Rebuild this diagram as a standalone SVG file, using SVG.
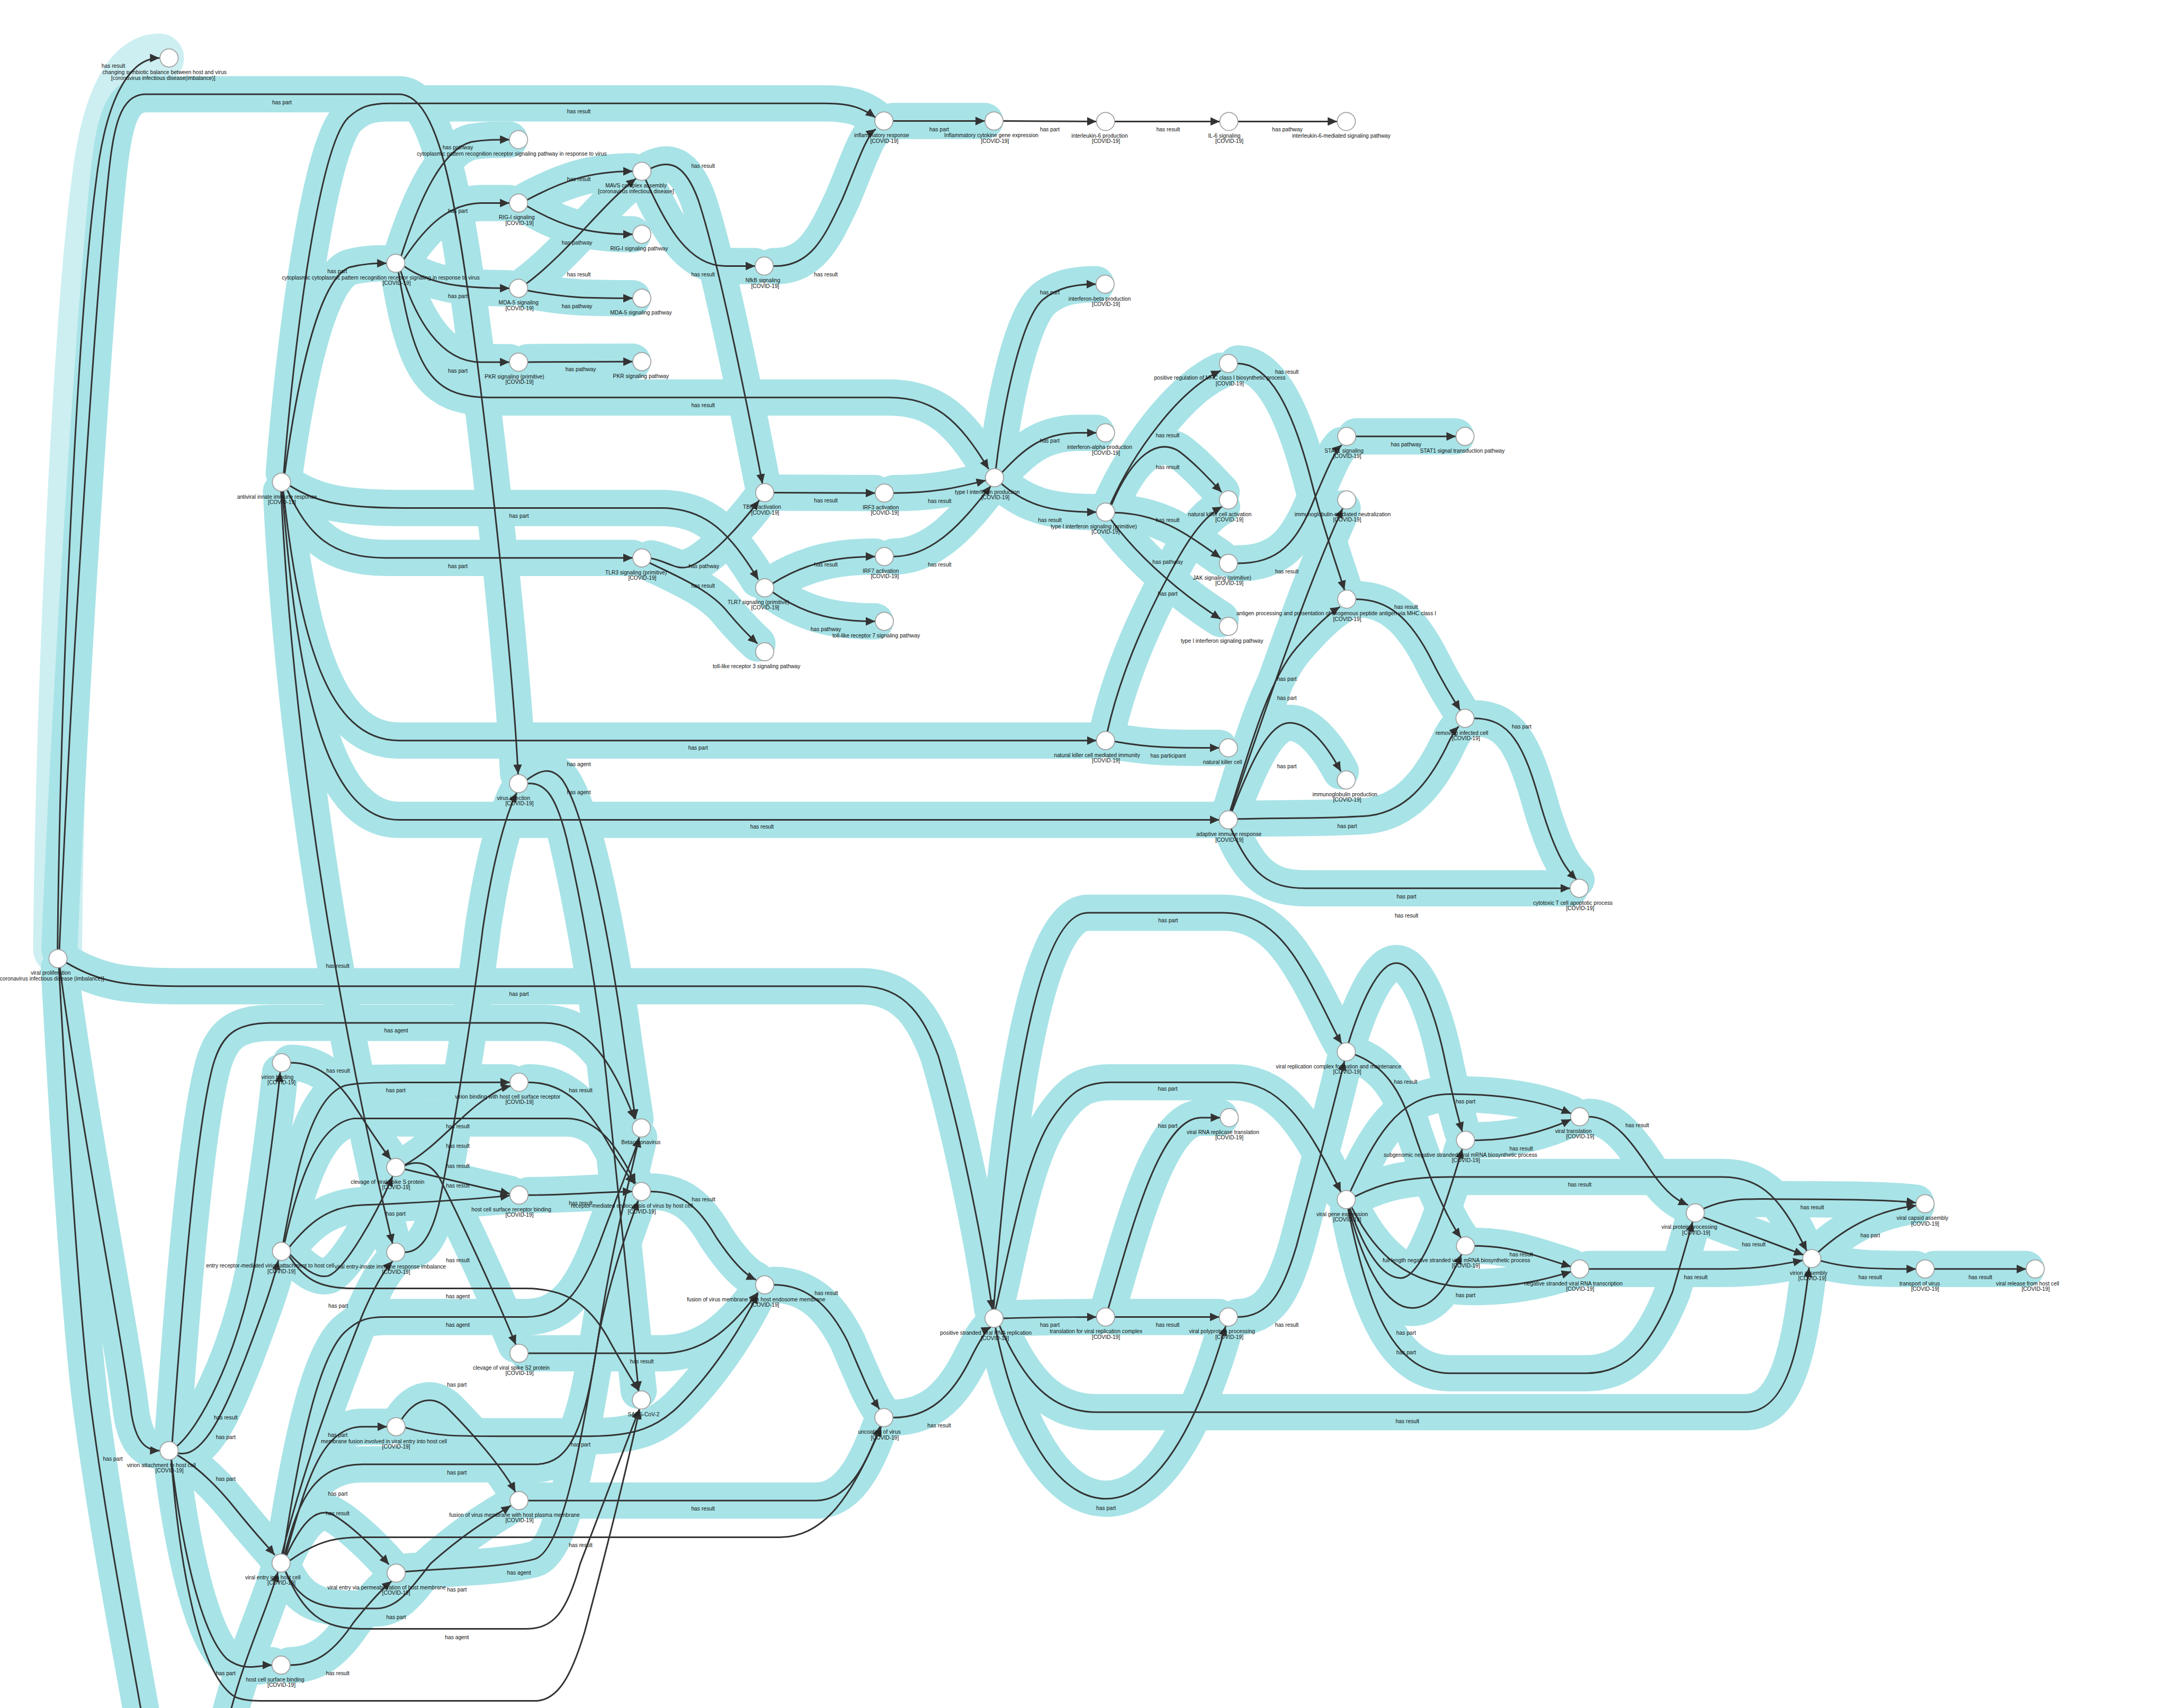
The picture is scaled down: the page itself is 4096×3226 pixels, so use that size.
<svg xmlns="http://www.w3.org/2000/svg" xmlns:xlink="http://www.w3.org/1999/xlink" width="4096" height="3226" viewBox="0 0 4096 3226">
<style>
text{font-family:"Liberation Sans",Arial,sans-serif;font-size:12px;fill:#111;text-anchor:middle}
.bl{fill:none;stroke:#cdeff2;stroke-width:108;stroke-linecap:round;stroke-linejoin:round}
.bd{fill:none;stroke:#a8e3e7;stroke-width:80;stroke-linecap:round;stroke-linejoin:round}
.ln{fill:none;stroke:#333;stroke-width:3.5;marker-end:url(#ah)}
.nd circle{fill:#fff;stroke:#a0a0a0;stroke-width:2}
</style>
<defs>
<marker id="ah" viewBox="0 0 10 9" refX="10" refY="4.5" markerWidth="6" markerHeight="5.4" markerUnits="strokeWidth" orient="auto"><path d="M0,0 L10,4.5 L0,9 z" fill="#333"/></marker>
<path id="e1" d="M127,2095 C133,1500 172,700 212,400 C232,230 280,128 352,128"/>
<path id="e2" d="M131,2095 C156,1500 208,700 238,400 C250,280 264,208 322,208 L880,208 C960,208 1000,400 1040,700 C1080,1000 1130,1450 1143,1708"/>
<path id="e3" d="M626,1044 C645,800 700,320 770,258 C795,236 815,228 860,228 L1820,228 C1880,228 1905,240 1931,259"/>
<path id="e4" d="M628,1045 C655,850 700,620 770,590 C800,582 825,581 853,581"/>
<path id="e5" d="M885,565 C925,440 975,330 1040,313 C1070,308 1095,308 1124,308"/>
<path id="e6" d="M891,572 C945,490 995,450 1060,448 L1124,448"/>
<path id="e7" d="M892,588 C950,628 1020,636 1124,636"/>
<path id="e8" d="M884,598 C915,700 970,799 1060,799 L1124,799"/>
<path id="e9" d="M879,600 C915,820 955,877 1080,877 L1960,877 C2060,877 2115,925 2181,1035"/>
<path id="e10" d="M1163,441 C1240,400 1300,378 1396,378"/>
<path id="e11" d="M1163,455 C1240,500 1300,517 1396,517"/>
<path id="e12" d="M1161,626 C1250,560 1330,450 1403,394"/>
<path id="e13" d="M1164,641 C1250,658 1300,658 1396,658"/>
<path id="e14" d="M1164,799 L1396,798"/>
<path id="e15" d="M1435,372 C1480,350 1512,365 1540,440 C1580,560 1640,850 1682,1067"/>
<path id="e16" d="M1424,396 C1470,500 1520,587 1600,587 L1666,587"/>
<path id="e17" d="M1706,587 C1790,590 1820,520 1858,440 C1888,370 1910,300 1932,285"/>
<path id="e18" d="M1970,267 L2173,267"/>
<path id="e19" d="M2213,267 L2419,268"/>
<path id="e20" d="M2459,268 L2691,268"/>
<path id="e21" d="M2731,268 L2950,268"/>
<path id="e22" d="M1707,1087 L1931,1088"/>
<path id="e23" d="M1971,1088 C2060,1088 2110,1076 2175,1060"/>
<path id="e24" d="M1971,1228 C2060,1228 2125,1150 2186,1072"/>
<path id="e25" d="M1436,1232 C1470,1238 1492,1258 1517,1251 C1562,1238 1632,1160 1675,1104"/>
<path id="e26" d="M1433,1242 C1490,1270 1565,1300 1605,1350 C1640,1392 1660,1410 1671,1420"/>
<path id="e27" d="M1705,1287 C1780,1240 1850,1228 1931,1228"/>
<path id="e28" d="M1705,1307 C1780,1360 1850,1371 1931,1371"/>
<path id="e29" d="M640,1072 C700,1110 760,1121 900,1121 L1460,1121 C1560,1121 1612,1180 1673,1279"/>
<path id="e30" d="M634,1082 C680,1180 730,1231 850,1231 L1396,1231"/>
<path id="e31" d="M2197,1034 C2218,860 2258,700 2300,662 C2332,634 2372,627 2418,627"/>
<path id="e32" d="M2210,1043 C2260,990 2300,955 2380,955 L2419,955"/>
<path id="e33" d="M2209,1067 C2270,1120 2330,1130 2419,1130"/>
<path id="e34" d="M2450,1112 C2500,1000 2600,860 2693,818"/>
<path id="e35" d="M2452,1114 C2500,1000 2555,968 2600,995 C2640,1025 2672,1062 2695,1086"/>
<path id="e36" d="M2459,1131 C2560,1133 2620,1180 2693,1231"/>
<path id="e37" d="M2451,1147 C2520,1240 2620,1320 2693,1366"/>
<path id="e38" d="M2730,1243 C2820,1243 2860,1200 2900,1100 C2930,1030 2945,995 2960,982"/>
<path id="e39" d="M2991,963 L3212,963"/>
<path id="e40" d="M2730,802 C2800,802 2850,900 2890,1050 C2920,1170 2950,1250 2966,1302"/>
<path id="e41" d="M2991,1322 C3060,1322 3110,1360 3160,1460 C3190,1520 3208,1545 3221,1567"/>
<path id="e42" d="M3252,1585 C3330,1585 3362,1640 3400,1780 C3436,1900 3462,1925 3478,1941"/>
<path id="e43" d="M2459,1636 C2550,1652 2600,1650 2690,1650"/>
<path id="e44" d="M2443,1614 C2480,1450 2560,1300 2600,1230 C2640,1160 2670,1132 2696,1118"/>
<path id="e45" d="M2718,1790 C2760,1680 2800,1595 2845,1595 C2890,1595 2930,1650 2958,1702"/>
<path id="e46" d="M2730,1807 C2850,1804 2950,1806 3020,1800 C3100,1790 3150,1730 3190,1650 C3203,1622 3211,1610 3218,1603"/>
<path id="e47" d="M2716,1829 C2760,1930 2800,1960 2880,1960 L3464,1960"/>
<path id="e48" d="M2714,1789 C2760,1640 2800,1500 2860,1430 C2905,1378 2935,1352 2956,1339"/>
<path id="e49" d="M2716,1789 C2780,1600 2880,1300 2962,1122"/>
<path id="e50" d="M625,1084 C660,1400 720,1634 880,1634 L2419,1634"/>
<path id="e51" d="M623,1084 C655,1500 715,1809 880,1809 L2690,1809"/>
<path id="e52" d="M620,1084 C650,1700 760,2300 866,2744"/>
<path id="e53" d="M146,2124 C220,2168 280,2176 400,2176 L1900,2176 C2000,2176 2040,2250 2070,2330 C2120,2500 2170,2750 2189,2889"/>
<path id="e54" d="M1162,1721 C1190,1700 1215,1690 1240,1720 C1290,1790 1340,2050 1370,2250 C1385,2360 1395,2420 1402,2469"/>
<path id="e55" d="M1164,1729 C1200,1726 1225,1750 1250,1850 C1285,2000 1320,2200 1340,2400 C1370,2700 1395,2950 1409,3069"/>
<path id="e56" d="M641,2345 C700,2345 742,2380 782,2440 C820,2500 848,2540 862,2558"/>
<path id="e57" d="M625,2741 C652,2600 682,2420 762,2395 C792,2388 822,2388 1125,2388"/>
<path id="e58" d="M638,2752 C680,2700 722,2662 800,2659 C900,2655 1000,2650 1125,2638"/>
<path id="e59" d="M628,2741 C660,2600 702,2480 780,2468 L1250,2468 C1320,2468 1362,2530 1402,2611"/>
<path id="e60" d="M640,2768 C670,2800 700,2822 725,2815 C762,2800 830,2680 866,2596"/>
<path id="e61" d="M638,2772 C670,2820 700,2843 780,2843 L1160,2843 C1250,2843 1300,2880 1340,2950 C1375,3015 1398,3050 1409,3069"/>
<path id="e62" d="M892,2571 C950,2540 1000,2480 1050,2440 C1088,2410 1108,2400 1127,2396"/>
<path id="e63" d="M893,2580 C980,2600 1060,2620 1125,2634"/>
<path id="e64" d="M893,2572 C920,2560 950,2565 970,2600 C1020,2700 1090,2850 1138,2967"/>
<path id="e65" d="M1165,2388 C1250,2388 1300,2450 1340,2520 C1368,2570 1388,2598 1400,2612"/>
<path id="e66" d="M1165,2637 C1250,2637 1320,2630 1395,2629"/>
<path id="e67" d="M1435,2629 C1500,2629 1540,2660 1580,2730 C1620,2790 1648,2815 1668,2824"/>
<path id="e68" d="M1165,2986 L1460,2986 C1560,2986 1620,2920 1672,2852"/>
<path id="e69" d="M893,2763 C920,2763 950,2740 970,2650 C1000,2500 1040,2250 1065,2050 C1090,1880 1120,1790 1140,1749"/>
<path id="e70" d="M1707,2835 C1780,2835 1830,2880 1870,2960 C1900,3030 1920,3080 1940,3109"/>
<path id="e71" d="M1165,3311 L1800,3311 C1868,3311 1908,3240 1941,3148"/>
<path id="e72" d="M640,3443 C700,3400 740,3392 800,3392 L1720,3392 C1820,3392 1880,3300 1944,3147"/>
<path id="e73" d="M1970,3128 C2050,3128 2100,3080 2140,3000 C2165,2950 2178,2932 2186,2928"/>
<path id="e74" d="M2213,2909 C2300,2906 2350,2906 2419,2906"/>
<path id="e75" d="M2459,2906 L2690,2906"/>
<path id="e76" d="M2445,2887 C2500,2700 2560,2466 2650,2466 L2692,2466"/>
<path id="e77" d="M2196,2889 C2230,2750 2260,2560 2320,2470 C2360,2410 2390,2388 2450,2388 L2720,2388 C2820,2388 2880,2470 2958,2630"/>
<path id="e78" d="M2192,2889 C2220,2500 2280,2014 2400,2014 L2700,2014 C2800,2014 2850,2100 2880,2150 C2920,2220 2945,2280 2960,2303"/>
<path id="e79" d="M2730,2906 C2800,2906 2830,2850 2860,2750 C2900,2600 2940,2450 2966,2341"/>
<path id="e80" d="M2196,2929 C2240,3150 2330,3307 2440,3307 C2550,3307 2640,3150 2704,2926"/>
<path id="e81" d="M2205,2925 C2260,3050 2320,3116 2420,3116 L3850,3116 C3950,3116 3972,2950 3991,2797"/>
<path id="e82" d="M2975,2301 C3000,2220 3040,2125 3080,2125 C3130,2125 3170,2250 3190,2350 C3205,2420 3215,2460 3226,2497"/>
<path id="e83" d="M2989,2327 C3050,2350 3090,2400 3120,2500 C3160,2620 3200,2700 3223,2731"/>
<path id="e84" d="M2979,2629 C3030,2520 3080,2414 3200,2414 C3320,2414 3400,2430 3466,2457"/>
<path id="e85" d="M2989,2640 C3050,2610 3100,2597 3200,2597 L3800,2597 C3880,2597 3920,2640 3960,2710 L3986,2760"/>
<path id="e86" d="M2978,2666 C3010,2760 3050,2820 3090,2820 C3140,2820 3192,2650 3226,2535"/>
<path id="e87" d="M2976,2667 C3010,2800 3060,2886 3115,2886 C3170,2886 3200,2820 3224,2768"/>
<path id="e88" d="M2982,2664 C3030,2760 3100,2840 3250,2840 C3350,2840 3420,2820 3466,2806"/>
<path id="e89" d="M2974,2667 C3020,2900 3080,3030 3200,3030 L3500,3030 C3600,3030 3650,2950 3690,2850 C3710,2780 3725,2730 3734,2696"/>
<path id="e90" d="M3253,2516 C3330,2516 3400,2500 3466,2470"/>
<path id="e91" d="M3253,2749 C3340,2749 3400,2775 3466,2795"/>
<path id="e92" d="M3505,2464 C3560,2464 3600,2520 3640,2580 C3680,2640 3708,2652 3724,2659"/>
<path id="e93" d="M3505,2800 L3800,2800 C3880,2800 3930,2790 3977,2781"/>
<path id="e94" d="M3758,2667 C3820,2640 3860,2646 3950,2646 C4100,2646 4180,2648 4227,2654"/>
<path id="e95" d="M3758,2686 L3979,2769"/>
<path id="e96" d="M4011,2763 C4080,2700 4150,2670 4228,2660"/>
<path id="e97" d="M4017,2782 C4080,2800 4150,2800 4227,2800"/>
<path id="e98" d="M4267,2800 L4470,2800"/>
<path id="e99" d="M380,3182 C400,2900 430,2500 470,2350 C490,2282 520,2257 600,2257 L1200,2257 C1300,2257 1352,2350 1400,2469"/>
<path id="e100" d="M390,3191 C440,3150 520,3000 560,2800 C590,2600 610,2450 618,2366"/>
<path id="e101" d="M392,3206 C450,3222 500,3100 540,3000 C578,2900 603,2830 614,2781"/>
<path id="e102" d="M392,3211 C440,3240 480,3280 520,3330 C560,3380 590,3412 606,3431"/>
<path id="e103" d="M378,3221 C400,3400 440,3600 500,3660 C540,3690 570,3674 600,3674"/>
<path id="e104" d="M132,2135 C180,2500 270,2950 290,3120 C300,3180 320,3200 352,3201"/>
<path id="e105" d="M130,2135 C150,2500 175,2900 200,3100 C240,3400 290,3650 314,3790"/>
<path id="e106" d="M505,3790 C540,3650 590,3550 613,3469"/>
<path id="e107" d="M630,3431 C670,3300 700,3148 800,3148 L854,3148"/>
<path id="e108" d="M886,3132 C920,3080 960,3080 990,3110 C1040,3160 1110,3240 1137,3292"/>
<path id="e109" d="M894,3150 C960,3169 1000,3169 1100,3169 L1300,3169 C1400,3169 1450,3150 1500,3100 C1580,3020 1640,2920 1672,2855"/>
<path id="e110" d="M628,3430 C660,3300 700,3231 800,3231 L1180,3231 C1260,3231 1290,3150 1320,2950 C1350,2800 1390,2700 1408,2649"/>
<path id="e111" d="M632,3432 C670,3350 700,3330 730,3340 C770,3360 830,3420 858,3452"/>
<path id="e112" d="M630,3468 C660,3530 700,3549 780,3549 L830,3549 C880,3549 910,3500 950,3450 C1040,3370 1100,3340 1127,3322"/>
<path id="e113" d="M640,3674 C700,3674 740,3640 780,3580 C820,3530 850,3500 864,3489"/>
<path id="e114" d="M630,3468 C670,3560 710,3594 800,3594 L1160,3594 C1220,3594 1250,3560 1280,3450 L1410,3110"/>
<path id="e115" d="M625,3429 C660,3200 700,3000 760,2940 C790,2912 810,2906 850,2906 L1160,2906 C1240,2906 1280,2850 1320,2750 C1360,2640 1395,2560 1410,2510"/>
<path id="e116" d="M894,3468 C980,3460 1100,3460 1180,3440 C1240,3420 1280,3200 1320,2950 C1350,2750 1390,2600 1410,2510"/>
<path id="e117" d="M622,3429 C680,3200 760,3000 800,2900 C830,2830 850,2800 866,2783"/>
<path id="e118" d="M378,3221 C395,3450 440,3700 520,3745 C540,3753 560,3753 600,3753 L1180,3753 C1230,3753 1260,3700 1290,3600 C1330,3450 1380,3250 1411,3110"/>
</defs>
<rect width="4096" height="3226" fill="#fff"/>
<g transform="scale(0.856)">
<g id="connectors">
<g class="bl"><use href="#e1"/></g>
<g class="bd">
<use href="#e2"/><use href="#e3"/><use href="#e4"/><use href="#e5"/><use href="#e6"/><use href="#e7"/><use href="#e8"/><use href="#e9"/><use href="#e10"/><use href="#e11"/><use href="#e12"/><use href="#e13"/><use href="#e14"/><use href="#e15"/><use href="#e16"/><use href="#e17"/><use href="#e18"/><use href="#e22"/><use href="#e23"/><use href="#e24"/><use href="#e25"/><use href="#e26"/><use href="#e27"/><use href="#e28"/><use href="#e29"/><use href="#e30"/><use href="#e31"/><use href="#e32"/><use href="#e33"/><use href="#e34"/><use href="#e35"/><use href="#e36"/><use href="#e37"/><use href="#e38"/><use href="#e39"/><use href="#e40"/><use href="#e41"/><use href="#e42"/><use href="#e43"/><use href="#e44"/><use href="#e45"/><use href="#e46"/><use href="#e47"/><use href="#e48"/><use href="#e49"/><use href="#e50"/><use href="#e51"/><use href="#e52"/><use href="#e53"/><use href="#e54"/><use href="#e55"/><use href="#e56"/><use href="#e57"/><use href="#e58"/><use href="#e59"/><use href="#e60"/><use href="#e62"/><use href="#e63"/><use href="#e64"/><use href="#e65"/><use href="#e66"/><use href="#e67"/><use href="#e68"/><use href="#e69"/><use href="#e70"/><use href="#e71"/><use href="#e73"/><use href="#e74"/><use href="#e75"/><use href="#e76"/><use href="#e77"/><use href="#e78"/><use href="#e79"/><use href="#e80"/><use href="#e81"/><use href="#e82"/><use href="#e83"/><use href="#e84"/><use href="#e85"/><use href="#e86"/><use href="#e87"/><use href="#e88"/><use href="#e89"/><use href="#e90"/><use href="#e91"/><use href="#e92"/><use href="#e93"/><use href="#e94"/><use href="#e95"/><use href="#e96"/><use href="#e97"/><use href="#e98"/><use href="#e99"/><use href="#e100"/><use href="#e101"/><use href="#e102"/><use href="#e103"/><use href="#e104"/><use href="#e105"/><use href="#e106"/><use href="#e107"/><use href="#e108"/><use href="#e109"/><use href="#e110"/><use href="#e111"/><use href="#e112"/><use href="#e113"/><use href="#e115"/><use href="#e116"/><use href="#e117"/>
</g>
<g class="ln">
<use href="#e1"/><use href="#e2"/><use href="#e3"/><use href="#e4"/><use href="#e5"/><use href="#e6"/><use href="#e7"/><use href="#e8"/><use href="#e9"/><use href="#e10"/><use href="#e11"/><use href="#e12"/><use href="#e13"/><use href="#e14"/><use href="#e15"/><use href="#e16"/><use href="#e17"/><use href="#e18"/><use href="#e19"/><use href="#e20"/><use href="#e21"/><use href="#e22"/><use href="#e23"/><use href="#e24"/><use href="#e25"/><use href="#e26"/><use href="#e27"/><use href="#e28"/><use href="#e29"/><use href="#e30"/><use href="#e31"/><use href="#e32"/><use href="#e33"/><use href="#e34"/><use href="#e35"/><use href="#e36"/><use href="#e37"/><use href="#e38"/><use href="#e39"/><use href="#e40"/><use href="#e41"/><use href="#e42"/><use href="#e43"/><use href="#e44"/><use href="#e45"/><use href="#e46"/><use href="#e47"/><use href="#e48"/><use href="#e49"/><use href="#e50"/><use href="#e51"/><use href="#e52"/><use href="#e53"/><use href="#e54"/><use href="#e55"/><use href="#e56"/><use href="#e57"/><use href="#e58"/><use href="#e59"/><use href="#e60"/><use href="#e61"/><use href="#e62"/><use href="#e63"/><use href="#e64"/><use href="#e65"/><use href="#e66"/><use href="#e67"/><use href="#e68"/><use href="#e69"/><use href="#e70"/><use href="#e71"/><use href="#e72"/><use href="#e73"/><use href="#e74"/><use href="#e75"/><use href="#e76"/><use href="#e77"/><use href="#e78"/><use href="#e79"/><use href="#e80"/><use href="#e81"/><use href="#e82"/><use href="#e83"/><use href="#e84"/><use href="#e85"/><use href="#e86"/><use href="#e87"/><use href="#e88"/><use href="#e89"/><use href="#e90"/><use href="#e91"/><use href="#e92"/><use href="#e93"/><use href="#e94"/><use href="#e95"/><use href="#e96"/><use href="#e97"/><use href="#e98"/><use href="#e99"/><use href="#e100"/><use href="#e101"/><use href="#e102"/><use href="#e103"/><use href="#e104"/><use href="#e105" style="marker-end:none"/><use href="#e106"/><use href="#e107"/><use href="#e108"/><use href="#e109"/><use href="#e110"/><use href="#e111"/><use href="#e112"/><use href="#e113"/><use href="#e114"/><use href="#e115"/><use href="#e116"/><use href="#e117"/><use href="#e118"/>
</g>
<g id="edge-labels">
<text x="250" y="150">has result</text><text x="622" y="230">has part</text><text x="1277" y="250">has result</text><text x="1010" y="330">has pathway</text><text x="1551" y="370">has result</text><text x="1277" y="400">has result</text><text x="1010" y="470">has part</text><text x="1273" y="540">has pathway</text><text x="744" y="603">has part</text><text x="1277" y="610">has result</text><text x="1551" y="610">has result</text><text x="1822" y="610">has result</text><text x="1010" y="658">has part</text><text x="1273" y="680">has pathway</text><text x="1010" y="822">has part</text><text x="1281" y="819">has pathway</text><text x="1551" y="898">has result</text>
<text x="2072" y="290">has part</text><text x="2316" y="290">has part</text><text x="2577" y="290">has result</text><text x="2840" y="290">has pathway</text>
<text x="2316" y="650">has part</text><text x="2839" y="825">has result</text><text x="2576" y="965">has result</text><text x="2316" y="977">has part</text><text x="3102" y="985">has pathway</text><text x="2576" y="1035">has result</text><text x="1822" y="1109">has result</text><text x="2073" y="1110">has result</text><text x="1145" y="1143">has part</text><text x="2316" y="1152">has result</text><text x="2576" y="1152">has result</text><text x="1822" y="1250">has result</text><text x="2073" y="1250">has result</text><text x="1553" y="1253">has pathway</text><text x="1010" y="1253">has part</text><text x="2576" y="1244">has pathway</text><text x="2839" y="1265">has result</text><text x="1551" y="1297">has result</text><text x="2576" y="1314">has part</text><text x="3102" y="1344">has result</text><text x="1822" y="1393">has pathway</text><text x="2839" y="1502">has part</text><text x="2839" y="1544">has part</text><text x="3357" y="1607">has part</text><text x="1540" y="1654">has part</text><text x="2577" y="1672">has participant</text><text x="1277" y="1691">has agent</text><text x="2839" y="1695">has part</text><text x="1277" y="1752">has agent</text><text x="1681" y="1828">has result</text><text x="2972" y="1827">has part</text><text x="3103" y="1982">has part</text><text x="3103" y="2025">has result</text><text x="2577" y="2035">has part</text>
<text x="745" y="2136">has result</text><text x="1145" y="2198">has part</text><text x="874" y="2278">has agent</text><text x="746" y="2367">has result</text><text x="2576" y="2407">has part</text><text x="873" y="2410">has part</text><text x="1281" y="2410">has result</text><text x="3101" y="2391">has result</text><text x="3233" y="2434">has part</text><text x="2576" y="2488">has part</text><text x="3612" y="2487">has result</text><text x="1010" y="2490">has result</text><text x="1010" y="2533">has result</text><text x="3356" y="2538">has result</text><text x="1010" y="2577">has result</text><text x="3485" y="2618">has result</text><text x="1010" y="2620">has result</text><text x="1552" y="2651">has result</text><text x="1281" y="2659">has result</text><text x="3998" y="2668">has result</text><text x="873" y="2682">has part</text><text x="4126" y="2730">has part</text><text x="3869" y="2750">has result</text><text x="3356" y="2772">has result</text><text x="1010" y="2785">has result</text><text x="3741" y="2822">has result</text><text x="4126" y="2822">has result</text><text x="4369" y="2822">has result</text><text x="1823" y="2857">has result</text><text x="3233" y="2862">has part</text><text x="1010" y="2865">has agent</text><text x="746" y="2885">has part</text><text x="2316" y="2928">has part</text><text x="2576" y="2928">has result</text><text x="2839" y="2928">has result</text><text x="1010" y="2928">has agent</text><text x="3102" y="2945">has part</text><text x="3102" y="2988">has part</text><text x="1416" y="3008">has result</text><text x="1008" y="3060">has part</text><text x="498" y="3132">has result</text><text x="3105" y="3140">has result</text><text x="2072" y="3149">has result</text><text x="745" y="3170">has part</text><text x="498" y="3175">has part</text><text x="1281" y="3192">has part</text><text x="249" y="3223">has part</text><text x="1008" y="3253">has part</text><text x="498" y="3267">has part</text><text x="745" y="3300">has part</text><text x="2440" y="3332">has part</text><text x="1551" y="3333">has result</text><text x="745" y="3343">has result</text><text x="1281" y="3413">has result</text><text x="1145" y="3474">has agent</text><text x="1008" y="3512">has part</text><text x="874" y="3573">has part</text><text x="1008" y="3617">has agent</text><text x="498" y="3696">has part</text><text x="745" y="3696">has result</text>
</g>
</g>
<g id="nodes" class="nd">
<g id="n1"><circle cx="128" cy="2115" r="20"/><text x="112" y="2151">viral proliferation</text><text x="113" y="2163">[coronavirus infectious disease (imbalance)]</text></g>
<g id="n2"><circle cx="373" cy="128" r="20"/><text x="363" y="164">changing symbiotic balance between host and virus</text><text x="360" y="176">[coronavirus infectious disease(imbalance)]</text></g>
<g id="n3"><circle cx="1950" cy="267" r="20"/><text x="1945" y="303">inflammatory response</text><text x="1951" y="315">[COVID-19]</text></g>
<g id="n4"><circle cx="2193" cy="267" r="20"/><text x="2187" y="303">Inflammatory cytokine gene expression</text><text x="2195" y="315">[COVID-19]</text></g>
<g id="n5"><circle cx="2439" cy="268" r="20"/><text x="2426" y="304">interleukin-6 production</text><text x="2440" y="316">[COVID-19]</text></g>
<g id="n6"><circle cx="2711" cy="268" r="20"/><text x="2701" y="304">IL-6 signaling</text><text x="2712" y="316">[COVID-19]</text></g>
<g id="n7"><circle cx="2970" cy="268" r="20"/><text x="2959" y="304">interleukin-6-mediated signaling pathway</text></g>
<g id="n8"><circle cx="1144" cy="308" r="20"/><text x="1129" y="344">cytoplasmic pattern recognition receptor signaling pathway in response to virus</text></g>
<g id="n9"><circle cx="1416" cy="378" r="20"/><text x="1403" y="414">MAVS complex assembly</text><text x="1403" y="426">[coronavirus infectious disease]</text></g>
<g id="n10"><circle cx="1144" cy="448" r="20"/><text x="1140" y="484">RIG-I signaling</text><text x="1146" y="496">[COVID-19]</text></g>
<g id="n11"><circle cx="1416" cy="517" r="20"/><text x="1410" y="553">RIG-I signaling pathway</text></g>
<g id="n12"><circle cx="873" cy="581" r="20"/><text x="840" y="617">cytoplasmic cytoplasmic pattern recognition receptor signaling in response to virus</text><text x="875" y="629">[COVID-19]</text></g>
<g id="n13"><circle cx="1686" cy="587" r="20"/><text x="1683" y="623">NfkB signaling</text><text x="1688" y="635">[COVID-19]</text></g>
<g id="n14"><circle cx="1144" cy="636" r="20"/><text x="1144" y="672">MDA-5 signaling</text><text x="1146" y="684">[COVID-19]</text></g>
<g id="n15"><circle cx="1416" cy="658" r="20"/><text x="1414" y="694">MDA-5 signaling pathway</text></g>
<g id="n16"><circle cx="2438" cy="627" r="20"/><text x="2426" y="663">interferon-beta production</text><text x="2440" y="675">[COVID-19]</text></g>
<g id="n17"><circle cx="1144" cy="799" r="20"/><text x="1135" y="835">PKR signaling (primitive)</text><text x="1146" y="847">[COVID-19]</text></g>
<g id="n18"><circle cx="1416" cy="798" r="20"/><text x="1414" y="834">PKR signaling pathway</text></g>
<g id="n19"><circle cx="2710" cy="802" r="20"/><text x="2691" y="838">positive regulation of MHC class I biosynthetic process</text><text x="2713" y="850">[COVID-19]</text></g>
<g id="n20"><circle cx="2971" cy="963" r="20"/><text x="2965" y="999">STAT1 signaling</text><text x="2972" y="1011">[COVID-19]</text></g>
<g id="n21"><circle cx="3232" cy="963" r="20"/><text x="3226" y="999">STAT1 signal transduction pathway</text></g>
<g id="n22"><circle cx="2439" cy="955" r="20"/><text x="2426" y="991">interferon-alpha production</text><text x="2440" y="1003">[COVID-19]</text></g>
<g id="n23"><circle cx="621" cy="1064" r="20"/><text x="611" y="1100">antiviral innate immune response</text><text x="622" y="1112">[COVID-19]</text></g>
<g id="n24"><circle cx="1687" cy="1087" r="20"/><text x="1681" y="1123">TBK1 activation</text><text x="1688" y="1135">[COVID-19]</text></g>
<g id="n25"><circle cx="1951" cy="1088" r="20"/><text x="1943" y="1124">IRF3 activation</text><text x="1952" y="1136">[COVID-19]</text></g>
<g id="n26"><circle cx="2194" cy="1054" r="20"/><text x="2178" y="1090">type I interferon production</text><text x="2196" y="1102">[COVID-19]</text></g>
<g id="n27"><circle cx="2439" cy="1130" r="20"/><text x="2413" y="1166">type I interferon signaling (primitive)</text><text x="2439" y="1178">[COVID-19]</text></g>
<g id="n28"><circle cx="2710" cy="1103" r="20"/><text x="2691" y="1139">natural killer cell activation</text><text x="2712" y="1151">[COVID-19]</text></g>
<g id="n29"><circle cx="2971" cy="1103" r="20"/><text x="2962" y="1139">immunoglobulin-mediated neutralization</text><text x="2972" y="1151">[COVID-19]</text></g>
<g id="n30"><circle cx="1951" cy="1228" r="20"/><text x="1943" y="1264">IRF7 activation</text><text x="1952" y="1276">[COVID-19]</text></g>
<g id="n31"><circle cx="1416" cy="1231" r="20"/><text x="1403" y="1267">TLR3 signaling (primitive)</text><text x="1417" y="1279">[COVID-19]</text></g>
<g id="n32"><circle cx="2710" cy="1243" r="20"/><text x="2696" y="1279">JAK signaling (primitive)</text><text x="2712" y="1291">[COVID-19]</text></g>
<g id="n33"><circle cx="1687" cy="1297" r="20"/><text x="1673" y="1333">TLR7 signaling (primitive)</text><text x="1688" y="1345">[COVID-19]</text></g>
<g id="n34"><circle cx="2971" cy="1322" r="20"/><text x="2948" y="1358">antigen processing and presentation of exogenous peptide antigen via MHC class I</text><text x="2972" y="1370">[COVID-19]</text></g>
<g id="n35"><circle cx="2710" cy="1382" r="20"/><text x="2696" y="1418">type I interferon signaling pathway</text></g>
<g id="n36"><circle cx="1951" cy="1371" r="20"/><text x="1933" y="1407">toll-like receptor 7 signaling pathway</text></g>
<g id="n37"><circle cx="1687" cy="1438" r="20"/><text x="1669" y="1474">toll-like receptor 3 signaling pathway</text></g>
<g id="n38"><circle cx="2439" cy="1634" r="20"/><text x="2420" y="1670">natural killer cell mediated immunity</text><text x="2440" y="1682">[COVID-19]</text></g>
<g id="n39"><circle cx="2710" cy="1650" r="20"/><text x="2697" y="1686">natural killer cell</text></g>
<g id="n40"><circle cx="3232" cy="1585" r="20"/><text x="3225" y="1621">removing infected cell</text><text x="3234" y="1633">[COVID-19]</text></g>
<g id="n41"><circle cx="2970" cy="1721" r="20"/><text x="2967" y="1757">immunoglobulin production</text><text x="2972" y="1769">[COVID-19]</text></g>
<g id="n42"><circle cx="1144" cy="1729" r="20"/><text x="1133" y="1765">virus infection</text><text x="1146" y="1777">[COVID-19]</text></g>
<g id="n43"><circle cx="2710" cy="1809" r="20"/><text x="2711" y="1845">adaptive immune response</text><text x="2712" y="1857">[COVID-19]</text></g>
<g id="n44"><circle cx="3484" cy="1960" r="20"/><text x="3470" y="1996">cytotoxic T cell apoptotic process</text><text x="3486" y="2008">[COVID-19]</text></g>
<g id="n45"><circle cx="621" cy="2345" r="20"/><text x="612" y="2381">virion binding</text><text x="621" y="2393">[COVID-19]</text></g>
<g id="n46"><circle cx="1145" cy="2388" r="20"/><text x="1120" y="2424">virion binding with host cell surface receptor</text><text x="1146" y="2436">[COVID-19]</text></g>
<g id="n47"><circle cx="1415" cy="2489" r="20"/><text x="1414" y="2525">Betacoronavirus</text></g>
<g id="n48"><circle cx="873" cy="2576" r="20"/><text x="855" y="2612">clevage of viral spike S protein</text><text x="874" y="2624">[COVID-19]</text></g>
<g id="n49"><circle cx="1145" cy="2637" r="20"/><text x="1128" y="2673">host cell surface receptor binding</text><text x="1146" y="2685">[COVID-19]</text></g>
<g id="n50"><circle cx="1415" cy="2629" r="20"/><text x="1394" y="2665">receptor-mediated endocytosis of virus by host cell</text><text x="1416" y="2677">[COVID-19]</text></g>
<g id="n51"><circle cx="621" cy="2761" r="20"/><text x="596" y="2797">entry receptor-mediated virion attachment to host cell</text><text x="621" y="2809">[COVID-19]</text></g>
<g id="n52"><circle cx="873" cy="2763" r="20"/><text x="861" y="2799">viral entry-innate immune response imbalance</text><text x="874" y="2811">[COVID-19]</text></g>
<g id="n53"><circle cx="1687" cy="2835" r="20"/><text x="1668" y="2871">fusion of virus membrane with host endosome membrane</text><text x="1688" y="2883">[COVID-19]</text></g>
<g id="n54"><circle cx="1145" cy="2986" r="20"/><text x="1128" y="3022">clevage of viral spike S2 protein</text><text x="1146" y="3034">[COVID-19]</text></g>
<g id="n55"><circle cx="1415" cy="3089" r="20"/><text x="1420" y="3125">SARS-CoV-2</text></g>
<g id="n56"><circle cx="373" cy="3201" r="20"/><text x="356" y="3237">virion attachment to host cell</text><text x="374" y="3249">[COVID-19]</text></g>
<g id="n57"><circle cx="874" cy="3148" r="20"/><text x="847" y="3184">membrane fusion involved in viral entry into host cell</text><text x="874" y="3196">[COVID-19]</text></g>
<g id="n58"><circle cx="1145" cy="3311" r="20"/><text x="1135" y="3347">fusion of virus membrane with host plasma membrane</text><text x="1146" y="3359">[COVID-19]</text></g>
<g id="n59"><circle cx="620" cy="3449" r="20"/><text x="602" y="3485">viral entry into host cell</text><text x="621" y="3497">[COVID-19]</text></g>
<g id="n60"><circle cx="874" cy="3471" r="20"/><text x="853" y="3507">viral entry via permeabilization of host membrane</text><text x="874" y="3519">[COVID-19]</text></g>
<g id="n61"><circle cx="620" cy="3674" r="20"/><text x="607" y="3710">host cell surface binding</text><text x="621" y="3722">[COVID-19]</text></g>
<g id="n62"><circle cx="1950" cy="3128" r="20"/><text x="1940" y="3164">uncoating of virus</text><text x="1952" y="3176">[COVID-19]</text></g>
<g id="n63"><circle cx="2193" cy="2909" r="20"/><text x="2175" y="2945">positive stranded viral RNA replication</text><text x="2195" y="2957">[COVID-19]</text></g>
<g id="n64"><circle cx="2439" cy="2906" r="20"/><text x="2418" y="2942">translation for viral replication complex</text><text x="2440" y="2954">[COVID-19]</text></g>
<g id="n65"><circle cx="2710" cy="2906" r="20"/><text x="2696" y="2942">viral polyprotein processing</text><text x="2712" y="2954">[COVID-19]</text></g>
<g id="n66"><circle cx="2712" cy="2466" r="20"/><text x="2698" y="2502">viral RNA replicase translation</text><text x="2712" y="2514">[COVID-19]</text></g>
<g id="n67"><circle cx="2970" cy="2321" r="20"/><text x="2953" y="2357">viral replication complex formation and maintenance</text><text x="2972" y="2369">[COVID-19]</text></g>
<g id="n68"><circle cx="2970" cy="2647" r="20"/><text x="2961" y="2683">viral gene expression</text><text x="2972" y="2695">[COVID-19]</text></g>
<g id="n69"><circle cx="3485" cy="2464" r="20"/><text x="3471" y="2500">viral translation</text><text x="3486" y="2512">[COVID-19]</text></g>
<g id="n70"><circle cx="3233" cy="2516" r="20"/><text x="3222" y="2552">subgenomic negative stranded viral mRNA biosynthetic process</text><text x="3234" y="2564">[COVID-19]</text></g>
<g id="n71"><circle cx="3233" cy="2749" r="20"/><text x="3213" y="2785">full length negative stranded viral mRNA biosynthetic process</text><text x="3234" y="2797">[COVID-19]</text></g>
<g id="n72"><circle cx="3485" cy="2800" r="20"/><text x="3471" y="2836">negative stranded viral RNA transcription</text><text x="3486" y="2848">[COVID-19]</text></g>
<g id="n73"><circle cx="3740" cy="2676" r="20"/><text x="3727" y="2712">viral protein processing</text><text x="3742" y="2724">[COVID-19]</text></g>
<g id="n74"><circle cx="3997" cy="2777" r="20"/><text x="3990" y="2813">virion assembly</text><text x="3998" y="2825">[COVID-19]</text></g>
<g id="n75"><circle cx="4247" cy="2656" r="20"/><text x="4241" y="2692">viral capsid assembly</text><text x="4247" y="2704">[COVID-19]</text></g>
<g id="n76"><circle cx="4247" cy="2800" r="20"/><text x="4235" y="2836">transport of virus</text><text x="4247" y="2848">[COVID-19]</text></g>
<g id="n77"><circle cx="4490" cy="2800" r="20"/><text x="4473" y="2836">viral release from host cell</text><text x="4491" y="2848">[COVID-19]</text></g>
</g>
</g>
</svg>
